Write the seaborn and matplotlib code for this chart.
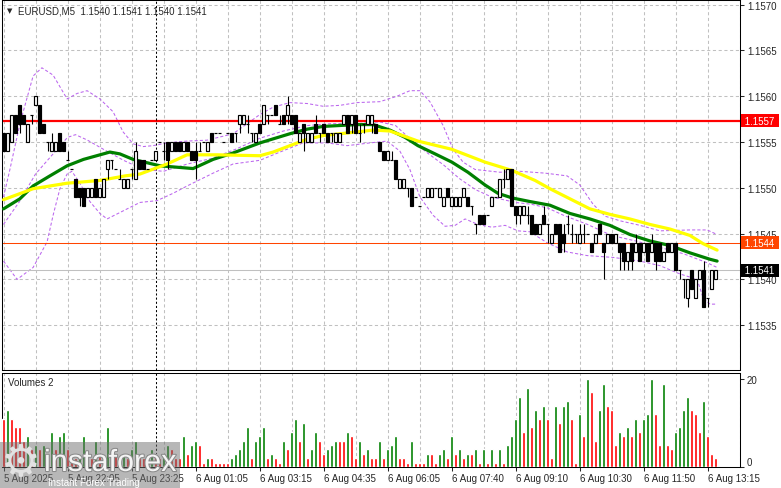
import numpy as np
import matplotlib
matplotlib.use("Agg")
import matplotlib.pyplot as plt
import matplotlib.transforms as mtransforms
import matplotlib.patheffects as pe
from matplotlib.patches import Rectangle
import seaborn as sns

# EURUSD M5, all prices kept as pips above 1.1530
base = 1.1530
pip = 0.0001

open_pips = [26, 24, 25, 28, 29, 28, 25, 28, 29, 29,
             27, 25, 24, 24, 26, 25, 23, 22, 21, 20,
             20, 19, 19, 21, 19, 19, 22, 23, 22, 21,
             20, 20, 22, 21, 23, 23, 22, 23, 23, 25,
             24, 25, 24, 25, 25, 24, 25, 24, 24, 24,
             25, 24, 26, 26, 26, 25, 26, 26, 26, 27,
             27, 27, 26, 25, 27, 27, 28, 28, 29, 27,
             28, 28, 28, 28, 25, 27, 25, 25, 27, 26,
             27, 26, 26, 25, 25, 27, 28, 27, 28, 26,
             27, 27, 27, 27, 25, 24, 23, 23, 23, 20,
             20, 20, 20, 19, 18, 19, 19, 19, 20, 19,
             18, 20, 18, 18, 18, 19, 19, 18, 16, 17,
             17, 17, 18, 19, 19, 21, 21, 22, 18, 17,
             17, 17, 17, 16, 15, 17, 16, 14, 16, 16,
             15, 16, 15, 15, 14, 15, 15, 14, 14, 16,
             14, 14, 15, 14, 14, 14, 12, 14, 13, 14,
             13, 14, 13, 14, 14, 12, 14, 13, 14, 11,
             10, 8, 11, 8, 10, 11, 8, 9, 10]
high_pips = [26, 26, 28, 28, 29, 28, 27, 28, 30, 29,
             27, 25, 26, 25, 26, 25, 24, 22, 21, 20,
             20, 20, 20, 21, 20, 21, 23, 23, 22, 22,
             21, 21, 22, 25, 23, 23, 22, 23, 24, 25,
             25, 25, 25, 25, 25, 25, 25, 24, 25, 25,
             25, 25, 26, 26, 26, 25, 26, 26, 26, 28,
             28, 28, 26, 26, 27, 29, 28, 28, 29, 28,
             28, 30, 28, 28, 26, 27, 26, 26, 28, 26,
             27, 26, 26, 26, 26, 28, 28, 28, 28, 27,
             27, 28, 28, 27, 25, 24, 24, 24, 23, 21,
             21, 20, 20, 19, 18, 19, 20, 20, 20, 20,
             19, 20, 19, 19, 19, 20, 19, 18, 16, 17,
             17, 17, 19, 19, 21, 22, 22, 22, 18, 18,
             18, 18, 17, 16, 16, 18, 16, 15, 16, 16,
             16, 17, 16, 15, 16, 16, 15, 14, 15, 16,
             14, 15, 15, 15, 14, 14, 13, 14, 15, 14,
             14, 14, 15, 14, 14, 13, 14, 14, 14, 11,
             10, 10, 11, 10, 11, 12, 8, 11, 11]
low_pips = [24, 24, 25, 26, 26, 27, 25, 27, 29, 26,
            26, 24, 24, 24, 24, 24, 23, 22, 19, 18,
            18, 19, 19, 19, 19, 19, 21, 22, 22, 21,
            20, 20, 21, 21, 22, 22, 22, 23, 23, 25,
            23, 22, 24, 24, 24, 24, 24, 23, 21, 24,
            25, 24, 25, 26, 26, 25, 26, 25, 25, 26,
            27, 26, 25, 25, 26, 27, 27, 28, 28, 27,
            27, 27, 27, 26, 25, 24, 25, 25, 26, 25,
            26, 25, 25, 25, 25, 27, 26, 26, 26, 25,
            26, 27, 26, 26, 24, 23, 23, 23, 21, 20,
            20, 19, 18, 19, 18, 19, 19, 19, 20, 19,
            18, 19, 18, 18, 18, 19, 18, 17, 15, 16,
            16, 17, 18, 19, 19, 20, 21, 18, 16, 16,
            17, 16, 15, 15, 15, 16, 14, 14, 15, 13,
            13, 15, 14, 14, 14, 14, 15, 13, 14, 15,
            10, 14, 14, 14, 11, 11, 11, 11, 13, 12,
            13, 12, 13, 11, 12, 12, 13, 13, 11, 10,
            8, 7, 9, 8, 10, 7, 7, 9, 10]
close_pips = [24, 26, 28, 26, 27, 27, 27, 28, 30, 26,
              26, 25, 25, 25, 24, 24, 23, 22, 19, 19,
              18, 20, 20, 19, 20, 21, 23, 23, 22, 21,
              21, 21, 22, 24, 22, 22, 22, 23, 24, 25,
              24, 23, 25, 24, 24, 25, 24, 23, 23, 24,
              25, 25, 25, 26, 26, 25, 26, 25, 26, 28,
              28, 27, 26, 26, 26, 29, 28, 28, 28, 27,
              27, 29, 27, 26, 26, 26, 26, 26, 26, 26,
              26, 25, 26, 26, 26, 28, 26, 28, 26, 26,
              27, 28, 28, 26, 24, 23, 24, 23, 21, 21,
              21, 20, 18, 19, 18, 19, 20, 20, 20, 20,
              19, 19, 19, 19, 19, 20, 18, 18, 16, 16,
              16, 17, 19, 19, 21, 21, 22, 18, 17, 18,
              18, 17, 15, 15, 16, 16, 16, 15, 15, 13,
              14, 16, 15, 15, 15, 15, 15, 13, 15, 15,
              13, 15, 14, 15, 13, 12, 13, 12, 14, 12,
              14, 12, 14, 12, 12, 13, 13, 14, 11, 11,
              10, 10, 9, 10, 11, 7, 8, 11, 11]

volumes = [11, 13, 11, 9, 9, 6, 7, 4, 5, 4,
           5, 3, 8, 4, 7, 8, 4, 3, 2, 3,
           7, 3, 2, 6, 3, 2, 9, 4, 3, 2,
           3, 2, 4, 6, 3, 2, 3, 4, 3, 2,
           3, 5, 4, 2, 2, 7, 3, 5, 6, 5,
           1, 2, 2, 1, 1, 1, 1, 2, 3, 4,
           6, 9, 2, 6, 7, 9, 2, 3, 2, 1,
           6, 4, 8, 11, 6, 10, 2, 4, 8, 6,
           3, 4, 5, 6, 6, 6, 8, 7, 2, 6,
           3, 4, 2, 2, 6, 2, 4, 5, 7, 2,
           2, 1, 6, 1, 1, 1, 3, 3, 1, 3,
           4, 2, 7, 3, 4, 2, 3, 3, 4, 1,
           4, 1, 4, 1, 4, 1, 5, 7, 11, 16,
           8, 18, 9, 13, 11, 14, 11, 2, 14, 10,
           14, 15, 11, 1, 12, 7, 20, 17, 6, 13,
           19, 14, 13, 5, 8, 7, 9, 7, 11, 8,
           11, 12, 20, 12, 5, 19, 5, 4, 8, 9,
           13, 16, 13, 12, 8, 15, 7, 3, 2]

# moving averages and bands read at sample bars (bar index, pips)
green_x = [0, 4.1, 7.4, 11.6, 15.9, 20.0, 26.6, 29.1, 32.4, 39.1, 47.4, 52.4, 57.4, 64.1,
           71.6, 75.9, 79.9, 84.1, 88.4, 92.4, 96.6, 100.4, 103.6, 107.9, 112.1, 116.1,
           120.4, 123.6, 127.1, 131.6, 136.6, 141.6, 146.6, 151.6, 156.6, 161.6, 166.6,
           171.6, 176.6, 178.4]
green_p = [17.7, 18.8, 20.2, 21.3, 22.4, 23.1, 23.9, 23.7, 23.1, 22.4, 22.1, 23.1, 23.8, 24.9,
           25.9, 26.4, 26.7, 26.8, 26.9, 26.9, 26.3, 25.5, 24.6, 23.7, 22.8, 21.7,
           20.3, 19.4, 18.9, 18.5, 18.1, 17.2, 16.6, 15.9, 14.9, 14.2, 13.7,
           12.9, 12.2, 12.0]
yellow_x = [0, 7.4, 15.9, 24.1, 30.4, 34.1, 40.9, 45.9, 53.4, 64.1, 67.4, 71.6, 75.9, 79.9,
            84.1, 88.4, 92.4, 96.6, 103.6, 112.1, 120.4, 127.1, 132.9, 136.6, 141.6, 146.6,
            151.6, 156.6, 161.6, 166.6, 171.6, 174.9, 178.4]
yellow_p = [18.7, 19.9, 20.5, 20.8, 21.3, 21.5, 22.6, 23.6, 23.6, 23.5, 23.9, 24.6, 25.3, 25.7,
            25.9, 26.1, 26.3, 26.2, 25.1, 24.2, 22.8, 21.9, 20.8, 19.9, 18.8, 17.7,
            17.1, 16.6, 16.0, 15.5, 14.8, 13.9, 13.2]
upper_x = [0, 1.6, 4.1, 7.4, 9.6, 12.4, 15.9, 18.4, 20.9, 24.1, 27.4, 29.9, 32.4, 34.9, 37.4,
           40.9, 45.9, 50.9, 57.4, 64.1, 67.4, 71.6, 75.9, 79.9, 84.1, 88.4, 94.1, 98.4,
           101.6, 104.1, 106.6, 109.9, 112.4, 114.9, 117.9, 124.1, 129.1, 135.4, 140.9,
           144.1, 147.4, 150.4, 154.1, 159.1, 164.1, 171.6, 175.9, 178.4]
upper_p = [19.0, 22.0, 27.0, 32.2, 33.1, 32.3, 29.7, 30.3, 30.6, 29.7, 28.3, 26.1, 24.8, 24.5, 24.6,
           24.9, 25.1, 25.2, 25.9, 28.0, 28.8, 29.3, 29.2, 28.9, 29.0, 29.3, 29.4, 30.0,
           30.6, 30.6, 29.4, 26.8, 24.2, 22.8, 22.0, 21.7, 21.8, 21.6, 21.3,
           20.3, 18.2, 16.9, 16.4, 15.9, 15.3, 15.4, 15.4, 14.9]
mid_x = [0, 4, 8, 12, 16, 18, 21, 25, 30, 35, 40, 46, 52, 58, 64, 70, 76, 82, 88, 94, 98,
         102, 106, 110, 114, 118, 122, 128, 132, 136, 140, 146, 152, 158, 164, 170, 176, 178.4]
mid_p = [16.0, 18.5, 21.5, 23.5, 25.5, 25.8, 25.2, 24.2, 23.0, 22.0, 21.8, 22.6, 23.2, 24.2,
         25.4, 26.2, 26.8, 27.0, 27.0, 27.2, 26.8, 25.2, 23.8, 22.5, 21.0, 19.8, 19.0, 18.4,
         18.2, 17.8, 17.0, 16.0, 14.8, 14.2, 13.5, 12.8, 11.8, 11.3]
lower_x = [0, 3.4, 7.4, 10.9, 12.4, 14.1, 15.9, 17.1, 19.1, 21.6, 24.1, 25.9, 29.1, 34.1, 38.4,
           42.4, 45.9, 52.4, 57.4, 64.1, 69.1, 74.9, 80.9, 85.9, 91.6, 95.9, 99.1, 101.6,
           104.1, 107.4, 110.4, 112.9, 115.4, 118.6, 122.1, 125.4, 128.6, 131.6, 135.9,
           140.9, 145.9, 152.4, 159.1, 164.1, 169.1, 173.4, 174.9, 176.6, 178.4]
lower_p = [12.0, 10.0, 11.3, 14.1, 17.0, 19.9, 21.5, 21.8, 20.5, 18.5, 17.2, 16.6, 17.3, 18.4, 18.6,
           19.4, 20.2, 21.6, 22.6, 23.0, 23.9, 24.9, 24.9, 24.6, 24.9, 25.1, 24.0, 22.0,
           19.0, 17.0, 15.8, 15.9, 16.6, 16.0, 15.7, 15.9, 15.3, 15.2, 14.0,
           13.0, 12.6, 12.4, 12.0, 11.5, 10.6, 10.0, 8.0, 7.3, 7.3]

time_labels = ["5 Aug 2025", "5 Aug 22:05", "5 Aug 23:25", "6 Aug 01:05", "6 Aug 03:15",
               "6 Aug 04:35", "6 Aug 06:05", "6 Aug 07:40", "6 Aug 09:10", "6 Aug 10:30",
               "6 Aug 11:50", "6 Aug 13:15"]
separator_bar = 38

level_prices = [1.15573, 1.1544, 1.1541]
level_texts = ["1.1557", "1.1544", "1.1541"]
level_colors = ["#ff0000", "#ff4500", "#000000"]
level_lines = ["#ff0000", "#ff4500", "#c0c0c0"]
level_widths = [1.6, 0.75, 0.75]

header = "EURUSD,M5  1.1540 1.1541 1.1540 1.1541"

sns.set_style("white")
plt.rcParams["font.family"] = ["Liberation Sans", "DejaVu Sans"]

to_price = lambda a: base + np.array(a) * pip
o, h, l, c = to_price(open_pips), to_price(high_pips), to_price(low_pips), to_price(close_pips)
bars = np.arange(len(close_pips))

W, H = 781, 489
def box(x0, y0, x1, y1):
    return [x0 / W, 1 - y1 / H, (x1 - x0) / W, (y1 - y0) / H]

fig = plt.figure(figsize=(W / 100, H / 100), dpi=100)
ax = fig.add_axes(box(2, 1, 740, 371))
axv = fig.add_axes(box(2, 374, 740, 468), sharex=ax)

grid_kw = dict(color="#c0c0c0", linestyle=(0, (3, 2.5)), linewidth=0.75)
for a in (ax, axv):
    a.set_facecolor("white")
    for s in a.spines.values():
        s.set_color("black")
        s.set_linewidth(0.75)
    a.set_axisbelow(True)
    a.axvline(separator_bar, color="black", lw=0.75, ls=(0, (2, 2)), zorder=3)

axv.set_xticks(np.arange(0, 185, 16))
axv.set_xticks(np.arange(8, 185, 16), minor=True)
axv.set_xticklabels(time_labels, ha="left")
axv.set_xlim(-0.375, 184.125)
ax.grid(True, which="both", axis="both", **grid_kw)
axv.grid(True, which="both", axis="x", **grid_kw)
ax.tick_params(axis="x", which="both", length=0, labelbottom=False)
axv.tick_params(axis="x", which="major", bottom=True, length=3, width=0.75, pad=1.5, labelsize=7)
axv.tick_params(axis="x", which="minor", length=0)

# price pane
ax.set_ylim(1.153011, 1.157050)
ax.yaxis.tick_right()
ax.set_yticks(to_price(np.arange(5, 41, 5)))
ax.set_yticklabels([f"{v:.4f}" for v in to_price(np.arange(5, 41, 5))])
ax.tick_params(axis="y", right=True, length=3, width=0.75, pad=2, labelsize=7)

for val, col, w in zip(level_prices, level_lines, level_widths):
    ax.axhline(val, color=col, lw=w, zorder=2.5)

band_kw = dict(color="#bb66ee", lw=0.75, linestyle=(0, (3, 2)), zorder=2, legend=False)
sns.lineplot(x=upper_x, y=to_price(upper_p), ax=ax, **band_kw)
sns.lineplot(x=mid_x, y=to_price(mid_p), ax=ax, **band_kw)
sns.lineplot(x=lower_x, y=to_price(lower_p), ax=ax, **band_kw)
sns.lineplot(x=green_x, y=to_price(green_p), ax=ax, color="#008000", lw=2.3, zorder=3, legend=False)
sns.lineplot(x=yellow_x, y=to_price(yellow_p), ax=ax, color="#ffff00", lw=2.3, zorder=3.2, legend=False)

ax.vlines(bars, l, h, color="black", lw=0.8, zorder=4)
ax.bar(bars, np.abs(c - o), bottom=np.minimum(o, c), width=0.58,
       color=np.where(c > o, "white", "black"), edgecolor="black", linewidth=0.85, zorder=5)

trans = mtransforms.blended_transform_factory(ax.transAxes, ax.transData)
for val, txt, col in zip(level_prices, level_texts, level_colors):
    ax.text(1.003, val, " " + txt + " ", transform=trans, ha="left", va="center", fontsize=7,
            color="white", clip_on=False, zorder=6,
            bbox=dict(boxstyle="square,pad=0.15", fc=col, ec="none"))

fig.text(7 / W, 1 - 11 / H, "\u25bc", fontsize=5, va="center", family=["DejaVu Sans"])
fig.text(18 / W, 1 - 11 / H, header, fontsize=7, va="center")

# volume pane
vol = np.array(volumes)
vol_up = np.r_[False, vol[1:] > vol[:-1]]
axv.bar(bars, vol, width=0.7, color=np.where(vol_up, "#008000", "#ff0000"), zorder=3)
axv.set_ylim(0, 21.4)
axv.yaxis.tick_right()
axv.set_yticks([0, 20])
axv.set_yticklabels(["0", "20"])
axv.tick_params(axis="y", right=True, length=3, width=0.75, pad=2, labelsize=7)
axv.get_yticklabels()[0].set_va("bottom")
axv.text(6 / 738, 0.904, "Volumes 2", transform=axv.transAxes, fontsize=7, va="center")

# watermark
fig.patches.append(Rectangle((0, 0), 180 / W, 46 / H, transform=fig.transFigure,
                             fc="#707070", ec="none", alpha=0.5, zorder=10))
fig.text(21 / W, 1 - 463 / H, "\u2699", fontsize=32, color="#e2e2e2", ha="center", va="center",
         family=["DejaVu Sans"], zorder=11)
fig.text(44 / W, 1 - 472 / H, "instaforex", fontsize=22, color="#f4f4f4", va="baseline", zorder=11,
         path_effects=[pe.withStroke(linewidth=1.5, foreground="#8a8a8a")])
fig.text(48 / W, 1 - 486 / H, "Instant Forex Trading", fontsize=7, color="white", va="baseline", zorder=11)

fig.savefig("out.png", dpi=100)
